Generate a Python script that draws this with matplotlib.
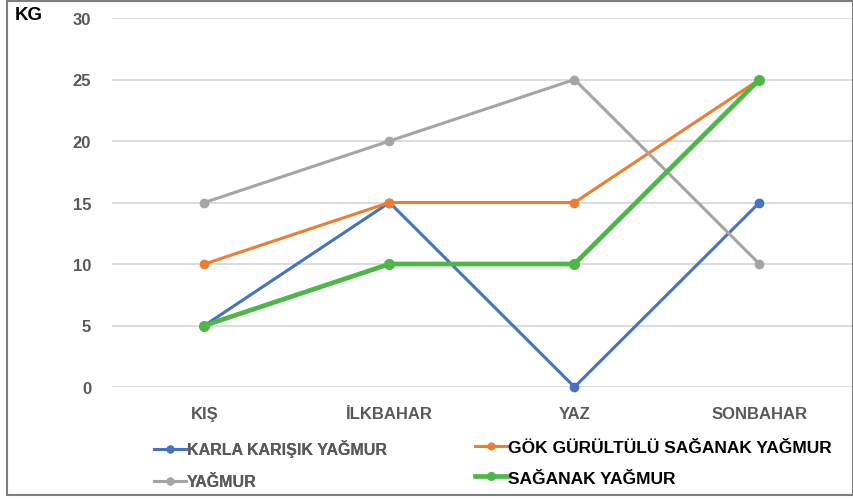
import matplotlib
matplotlib.use("Agg")
import matplotlib.pyplot as plt
from matplotlib.patches import Rectangle

plt.rcParams['font.family'] = ['Liberation Sans Narrow', 'Liberation Sans', 'DejaVu Sans']

seasons = ['KIŞ', 'İLKBAHAR', 'YAZ', 'SONBAHAR']
karla = [5, 15, 0, 15]
gok = [10, 15, 15, 25]
yagmur = [15, 20, 25, 10]
saganak = [5, 10, 10, 25]
yticks = [0, 5, 10, 15, 20, 25, 30]

fig = plt.figure(figsize=(8.54, 5.02), dpi=100)
ax = fig.add_axes([112 / 854, 1 - 388 / 502, 740 / 854, 369 / 502])

x = range(len(seasons))
l1, = ax.plot(x, karla, color='#4472C4', lw=2.2, marker='o', ms=6, clip_on=False, zorder=3)
l2, = ax.plot(x, gok, color='#ED7D31', lw=2.2, marker='o', ms=6, clip_on=False, zorder=3)
l3, = ax.plot(x, yagmur, color='#A5A5A5', lw=2.2, marker='o', ms=6, clip_on=False, zorder=3)
l4, = ax.plot(x, saganak, color='#4DB848', lw=3.4, marker='o', ms=7, clip_on=False, zorder=4)

ax.set_xlim(-0.5, 3.5)
ax.set_ylim(0, 30)
ax.set_yticks(yticks)
ax.set_xticks(list(x))
ax.set_xticklabels(seasons)
ax.grid(axis='y', color='#D9D9D9', lw=1.3)
ax.set_axisbelow(True)
for s in ax.spines.values():
    s.set_visible(False)
ax.tick_params(length=0, labelsize=12, labelcolor='#595959')
ax.tick_params(axis='y', pad=15)
ax.tick_params(axis='x', pad=14)
for lab in ax.get_xticklabels() + ax.get_yticklabels():
    lab.set_fontweight('bold')

fig.text(15 / 854, 1 - 15 / 502, 'KG', fontsize=13.5, fontweight='bold', va='center', ha='left')

leg1 = fig.legend([l1, l3], ['KARLA KARIŞIK YAĞMUR', 'YAĞMUR'], loc='upper left',
                  bbox_to_anchor=(140 / 854, 1 - 426 / 502), frameon=False,
                  prop={'weight': 'bold', 'size': 11.5}, labelcolor='#595959',
                  handlelength=2.0, handletextpad=0.05, labelspacing=1.05, markerscale=0.8)
leg2 = fig.legend([l2, l4], ['GÖK GÜRÜLTÜLÜ SAĞANAK YAĞMUR', 'SAĞANAK YAĞMUR'], loc='upper left',
                  bbox_to_anchor=(459 / 854, 1 - 425 / 502), frameon=False,
                  prop={'weight': 'bold', 'size': 12.5}, labelcolor='black',
                  handlelength=1.9, handletextpad=0.05, labelspacing=0.9, markerscale=0.8)
fig.add_artist(leg1)

fig.add_artist(Rectangle((7 / 854, 1 - 496 / 502), 846 / 854, 494 / 502, transform=fig.transFigure,
                         fill=False, edgecolor='#7F7F7F', lw=1.5))

fig.savefig('out.png', dpi=100)
